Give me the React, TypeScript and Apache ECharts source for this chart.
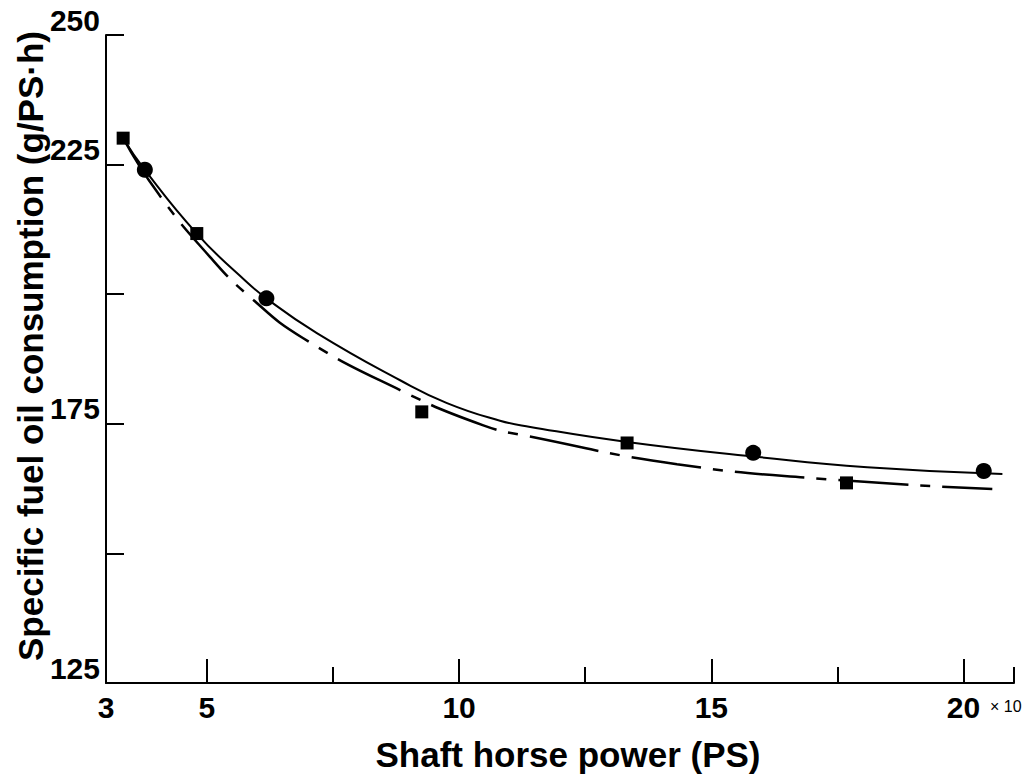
import React, { useEffect, useRef } from "react";
import * as echarts from "echarts";

// Fitted curve (solid)
const solidX = [3.34, 3.77, 4.8, 5.65, 6.18, 7.18, 8.83, 9.76, 10.81, 11.41, 13.33, 15.83, 18.09, 20.77];
const solidY = [230.1, 224.0, 211.7, 203.6, 199.2, 192.5, 183.4, 179.0, 175.6, 174.4, 171.5, 168.7, 166.6, 165.3];

// Fitted curve (dash-dot)
const dashX = [3.34, 4.03, 5.06, 5.85, 6.91, 8.83, 10.48, 11.37, 14.32, 17.3, 20.57];
const dashY = [230.1, 219.5, 207.2, 199.5, 191.5, 181.5, 174.7, 172.6, 167.2, 164.3, 162.4];

// Measured points
const squareX = [3.34, 4.8, 9.26, 13.33, 17.68];
const squareY = [230.1, 211.7, 177.3, 171.3, 163.6];
const circleX = [3.77, 6.18, 15.83, 20.4];
const circleY = [224.0, 199.2, 169.4, 165.9];

// Axis ticks / labels
const xLabelValues = [3, 5, 10, 15, 20];
const xMajorTicks = [5, 10, 15, 20];
const xMinorTicks = [7.5, 12.5, 17.5, 21];
const yLabelValues = [125, 175, 225, 250];
const yTickValues = [150, 175, 200, 225, 250];

const xName = "Shaft horse power (PS)";
const yName = "Specific fuel oil consumption (g/PS\u00b7h)";

const FONT = "'Liberation Sans', Arial, sans-serif";

const GRID_LEFT = 106;
const GRID_RIGHT = 17;
const WIDTH = 1031;

const zip = (xs: number[], ys: number[]) => xs.map((x, i) => [x, ys[i]]);

export default function App() {
  const ref = useRef<HTMLDivElement>(null);
  useEffect(() => {
    document.body.style.margin = "0";
    const chart = echarts.init(ref.current!, null, { renderer: "svg" });
    chart.setOption({
      animation: false,
      backgroundColor: "#ffffff",
      grid: { left: GRID_LEFT, right: GRID_RIGHT, top: 35, bottom: 91, containLabel: false },
      xAxis: [
        {
          type: "value",
          min: 3,
          max: 21,
          position: "bottom",
          splitLine: { show: false },
          axisLine: { show: true, onZero: false, lineStyle: { color: "#000", width: 2 } },
          axisTick: {
            show: true,
            inside: true,
            length: 24,
            customValues: xMajorTicks,
            lineStyle: { color: "#000", width: 2 },
          },
          axisLabel: {
            show: true,
            customValues: xLabelValues,
            margin: 9,
            color: "#000",
            fontFamily: FONT,
            fontWeight: "bold",
            fontSize: 30,
          },
        },
        {
          type: "value",
          min: 3,
          max: 21,
          position: "bottom",
          splitLine: { show: false },
          axisLine: { show: false, onZero: false },
          axisTick: {
            show: true,
            inside: true,
            length: 16,
            customValues: xMinorTicks,
            lineStyle: { color: "#000", width: 2 },
          },
          axisLabel: { show: false },
        },
      ],
      yAxis: [
        {
          type: "value",
          min: 125,
          max: 250,
          interval: 25,
          position: "left",
          splitLine: { show: false },
          axisLine: { show: true, onZero: false, lineStyle: { color: "#000", width: 2 } },
          axisTick: { show: false },
          axisLabel: {
            show: true,
            customValues: yLabelValues,
            margin: 6,
            verticalAlign: "bottom",
            color: "#000",
            fontFamily: FONT,
            fontWeight: "bold",
            fontSize: 30,
          },
        },
        {
          // tick-only axis placed on the left edge, ticks pointing into the plot
          type: "value",
          min: 125,
          max: 250,
          position: "right",
          offset: -(WIDTH - GRID_LEFT - GRID_RIGHT),
          splitLine: { show: false },
          axisLine: { show: false, onZero: false },
          axisTick: {
            show: true,
            inside: false,
            length: 18,
            customValues: yTickValues,
            lineStyle: { color: "#000", width: 2 },
          },
          axisLabel: { show: false },
        },
      ],
      graphic: [
        {
          type: "text",
          x: 30,
          y: 346,
          rotation: Math.PI / 2,
          style: {
            text: yName,
            font: `bold 35px ${FONT}`,
            fill: "#000",
            textAlign: "center",
            textVerticalAlign: "middle",
          },
        },
        {
          type: "text",
          x: 568,
          y: 754,
          style: {
            text: xName,
            font: `bold 35px ${FONT}`,
            fill: "#000",
            textAlign: "center",
            textVerticalAlign: "middle",
          },
        },
        {
          type: "text",
          x: 990,
          y: 706,
          style: {
            text: "\u00d7 10",
            font: `16px ${FONT}`,
            fill: "#000",
            textAlign: "left",
            textVerticalAlign: "middle",
          },
        },
      ],
      series: [
        {
          type: "line",
          name: "solid",
          data: zip(solidX, solidY),
          smooth: 0.5,
          showSymbol: false,
          lineStyle: { color: "#000", width: 2 },
          z: 2,
        },
        {
          type: "line",
          name: "dashdot",
          data: zip(dashX, dashY),
          smooth: 0.5,
          showSymbol: false,
          lineStyle: { color: "#000", width: 2.5, type: [70, 12, 10, 12] },
          z: 2,
        },
        {
          type: "scatter",
          name: "squares",
          data: zip(squareX, squareY),
          symbol: "rect",
          symbolSize: 13,
          itemStyle: { color: "#000", opacity: 1 },
          z: 3,
        },
        {
          type: "scatter",
          name: "circles",
          data: zip(circleX, circleY),
          symbol: "circle",
          symbolSize: 16,
          itemStyle: { color: "#000", opacity: 1 },
          z: 3,
        },
      ],
    });
    return () => chart.dispose();
  }, []);
  return <div ref={ref} style={{ width: 1031, height: 774 }} />;
}
